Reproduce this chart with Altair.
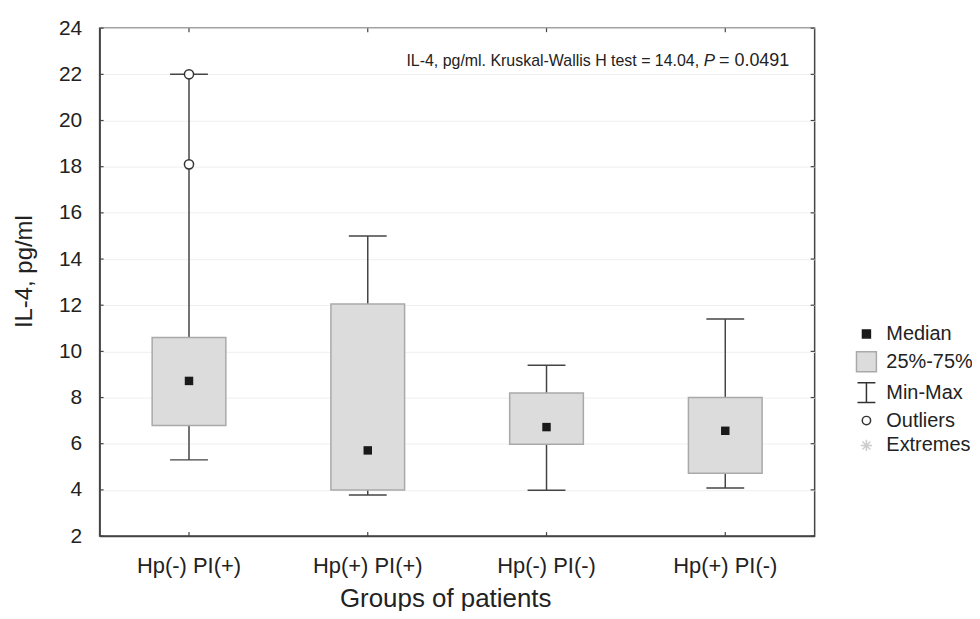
import altair as alt
import pandas as pd

groups = ["Hp(-) PI(+)", "Hp(+) PI(+)", "Hp(-) PI(-)", "Hp(+) PI(-)"]
mins = [5.3, 3.78, 3.98, 4.08]
q1 = [6.79, 4.0, 5.98, 4.72]
medians = [8.72, 5.71, 6.72, 6.56]
q3 = [10.6, 12.05, 8.2, 8.0]
maxs = [22.0, 15.0, 9.4, 11.4]
outlier_groups = ["Hp(-) PI(+)", "Hp(-) PI(+)"]
outlier_values = [18.1, 22.0]
y_ticks = [2, 4, 6, 8, 10, 12, 14, 16, 18, 20, 22, 24]
legend_items = ["Median", "25%-75%", "Min-Max", "Outliers", "Extremes"]
note_main = "IL-4, pg/ml. Kruskal-Wallis H test = 14.04,"
note_p = "P"
note_val = "= 0.0491"

FONT = "Liberation Sans"
DARK = "#444444"

df = pd.DataFrame({"group": groups, "min": mins, "q1": q1, "median": medians,
                   "q3": q3, "max": maxs})
out_df = pd.DataFrame({"group": outlier_groups, "value": outlier_values})
tick_df = pd.DataFrame({"v": y_ticks})
leg_df = pd.DataFrame({"item": legend_items, "group": [groups[0]] * 5,
                       "value": [medians[0]] * 5})

xscale = alt.Scale(domain=groups, paddingInner=0, paddingOuter=0)
yscale = alt.Scale(domain=[2, 24], nice=False, zero=False)

x_enc = alt.X("group:N", scale=xscale, sort=groups,
              axis=alt.Axis(title="Groups of patients", labelAngle=0, ticks=False,
                            labelFontSize=22, titleFontSize=26, labelPadding=20,
                            titlePadding=9, titleX=347, titleAlign="center",
                            labelColor="#222", titleColor="#222",
                            domainColor=DARK, domainWidth=1.5, titleFontWeight="normal"))
y_axis = alt.Axis(title="IL-4, pg/ml", values=y_ticks, ticks=False, grid=True,
                  gridColor="#efefef", gridWidth=1, labelFontSize=21, titleFontSize=24,
                  labelPadding=18, labelColor="#222", titleColor="#222",
                  titleX=-68, titleY=244, titleAngle=270, titleAlign="center",
                  titleBaseline="alphabetic",
                  domainColor=DARK, domainWidth=1.5, titleFontWeight="normal")

base = alt.Chart(df)

whisk_hi = base.mark_rule(color=DARK, strokeWidth=1.5).encode(
    x=x_enc, y=alt.Y("q3:Q", scale=yscale, axis=y_axis), y2="max:Q")
whisk_lo = base.mark_rule(color=DARK, strokeWidth=1.5).encode(
    x=x_enc, y=alt.Y("min:Q", scale=yscale), y2="q1:Q")
box = base.mark_bar(size=74, fill="#dcdcdc", stroke="#a9a9a9", strokeWidth=1.5).encode(
    x=x_enc, y=alt.Y("q1:Q", scale=yscale), y2="q3:Q")
cap_hi = base.mark_tick(size=38, thickness=1.5, color=DARK, opacity=1).encode(
    x=x_enc, y=alt.Y("max:Q", scale=yscale))
cap_lo = base.mark_tick(size=38, thickness=1.5, color=DARK, opacity=1).encode(
    x=x_enc, y=alt.Y("min:Q", scale=yscale))
med = base.mark_square(size=72, color="#1a1a1a", opacity=1).encode(
    x=x_enc, y=alt.Y("median:Q", scale=yscale))
outl = alt.Chart(out_df).mark_point(shape="circle", size=85, fill="white", filled=False,
                                    stroke="#333333", strokeWidth=1.5, opacity=1).encode(
    x=x_enc, y=alt.Y("value:Q", scale=yscale))

# inward ticks on the frame
tl = alt.Chart(tick_df).mark_rule(color=DARK, strokeWidth=1.2).encode(
    y=alt.Y("v:Q", scale=yscale), x=alt.value(0), x2=alt.value(4))
tr = alt.Chart(tick_df).mark_rule(color=DARK, strokeWidth=1.2).encode(
    y=alt.Y("v:Q", scale=yscale), x=alt.value(718), x2=alt.value(714))
tt = base.mark_rule(color=DARK, strokeWidth=1.2).encode(
    x=x_enc, y=alt.value(0), y2=alt.value(4))
tb = base.mark_rule(color=DARK, strokeWidth=1.2).encode(
    x=x_enc, y=alt.value(510), y2=alt.value(506))

leg_props = dict(title=None, orient="none", legendX=759, legendY=297,
                 labelFontSize=20, labelColor="#222", rowPadding=5,
                 labelOffset=9, symbolStrokeWidth=1.5, symbolOpacity=1)

legend = alt.Chart(leg_df).mark_point(filled=True, opacity=0).encode(
    x=x_enc, y=alt.Y("value:Q", scale=yscale),
    color=alt.Color("item:N", sort=legend_items, scale=alt.Scale(
        type="ordinal", domain=legend_items,
        range=["#1a1a1a", "#dcdcdc", "transparent", "white", "transparent"]),
        legend=alt.Legend(**leg_props)),
    shape=alt.Shape("item:N", sort=legend_items, scale=alt.Scale(
        domain=legend_items,
        range=["square", "square", "M-0.9,-1H0.9M0,-1V1M-0.9,1H0.9", "circle",
               "M-1,0H1M0,-1V1M-0.7,-0.7L0.7,0.7M-0.7,0.7L0.7,-0.7"]),
        legend=alt.Legend(**leg_props)),
    stroke=alt.Stroke("item:N", sort=legend_items, scale=alt.Scale(
        type="ordinal", domain=legend_items,
        range=["#1a1a1a", "#a9a9a9", "#333333", "#333333", "#cccccc"]),
        legend=alt.Legend(**leg_props)),
    size=alt.Size("item:N", sort=legend_items, scale=alt.Scale(
        type="ordinal", domain=legend_items, range=[64, 400, 400, 70, 130]),
        legend=alt.Legend(**leg_props)),
)

ann_df = pd.DataFrame({"a": [note_main], "b": [note_p], "c": [note_val]})
ann1 = alt.Chart(ann_df).mark_text(align="right", baseline="middle", fontSize=16,
                                   color="#222").encode(
    text="a:N", x=alt.value(602), y=alt.value(33))
ann2 = alt.Chart(ann_df).mark_text(align="right", baseline="middle", fontSize=17,
                                   fontStyle="italic", color="#222").encode(
    text="b:N", x=alt.value(618), y=alt.value(33))
ann3 = alt.Chart(ann_df).mark_text(align="left", baseline="middle", fontSize=18,
                                   color="#222").encode(
    text="c:N", x=alt.value(622), y=alt.value(33))

chart = alt.layer(whisk_hi, whisk_lo, box, cap_hi, cap_lo, med, outl,
                  tl, tr, tt, tb, legend, ann1, ann2, ann3).properties(
    width=718, height=510,
    autosize=alt.AutoSizeParams(type="none"),
    padding={"left": 92, "top": 19, "right": 158, "bottom": 74},
).configure(font=FONT).configure_view(stroke=DARK, strokeWidth=1.5).configure_legend(
    labelFont=FONT)

chart.save("out.html", embed_options={"renderer": "svg", "actions": False})
